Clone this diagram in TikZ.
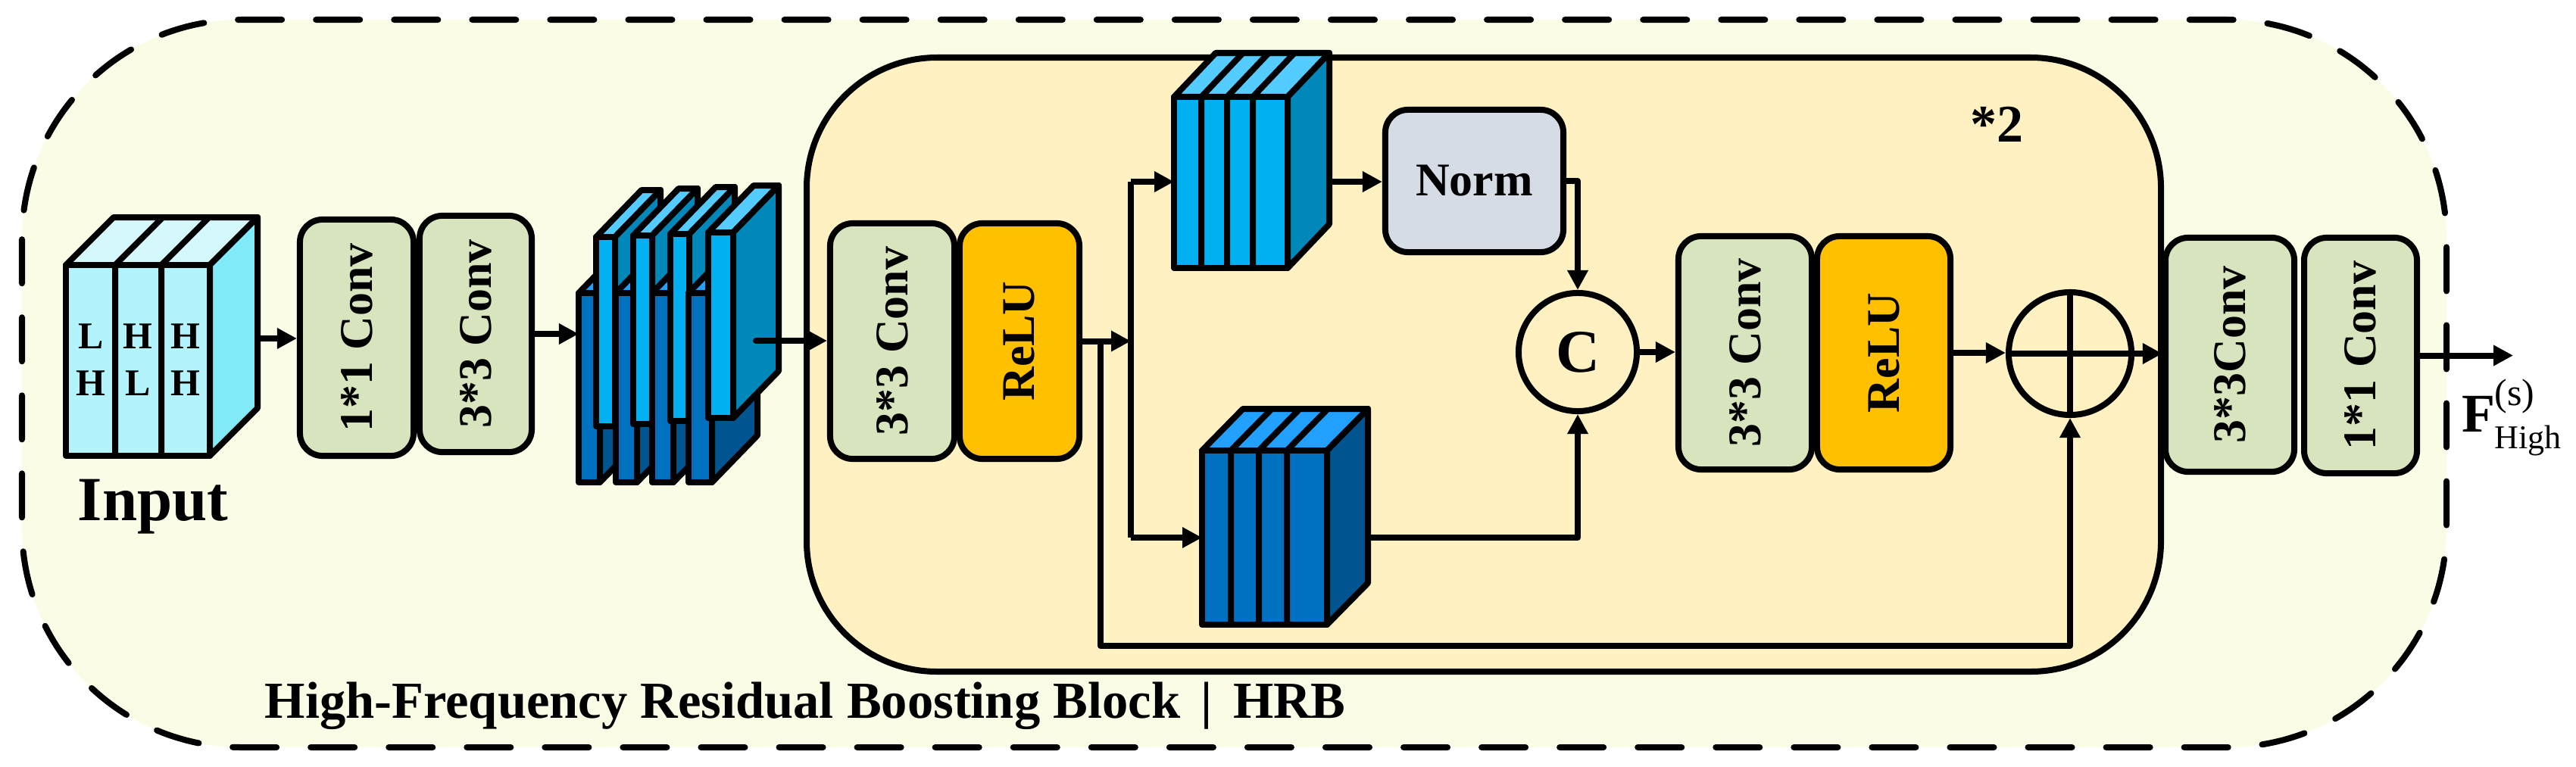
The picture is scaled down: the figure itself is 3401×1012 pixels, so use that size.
\documentclass[tikz,border=0pt]{standalone}
\usepackage{fontspec}
\setmainfont{Liberation Serif}
\usepackage{graphicx}
\usetikzlibrary{arrows.meta,calc}
\definecolor{outerfill}{HTML}{FBFCE6}
\definecolor{innerfill}{HTML}{FFF1C2}
\definecolor{convc}{HTML}{D7E4BD}
\definecolor{reluc}{HTML}{FFC000}
\definecolor{normc}{HTML}{D6DCE5}
\definecolor{infront}{HTML}{B3F3FC}
\definecolor{intop}{HTML}{D5F8FD}
\definecolor{inside}{HTML}{81EBFA}
\definecolor{lfront}{HTML}{00B0F0}
\definecolor{ltop}{HTML}{55CCFF}
\definecolor{lside}{HTML}{0088BB}
\definecolor{dfront}{HTML}{0070C0}
\definecolor{dtop}{HTML}{21A0FF}
\definecolor{dside}{HTML}{00548F}
\newcommand\labfont{\fontsize{17.6}{20}\selectfont\bfseries}
\newcommand\inputfont{\fontsize{23.6}{26}\selectfont\bfseries}
\newcommand\lhfont{\fontsize{14.2}{16}\selectfont\bfseries}
\newcommand\cfont{\fontsize{22.8}{24}\selectfont\bfseries}
\newcommand\twofont{\fontsize{19.9}{22}\selectfont\bfseries}
\newcommand\capfont{\fontsize{19.5}{22}\selectfont\bfseries}
% x0, ytop, w, ybot, dx, rise, front, top, side
\newcommand\cuboid[9]{%
  \filldraw[ln,fill=#8] (#1,#2) -- (#1+#5,#2-#6) -- (#1+#3+#5,#2-#6) -- (#1+#3,#2) -- cycle;
  \filldraw[ln,fill=#9] (#1+#3,#2) -- (#1+#3+#5,#2-#6) -- (#1+#3+#5,#4-#6) -- (#1+#3,#4) -- cycle;
  \filldraw[ln,fill=#7] (#1,#2) rectangle (#1+#3,#4);
}
\begin{document}
\begin{tikzpicture}[x=0.01cm,y=-0.01cm,
  ln/.style={line width=0.08cm,line join=round},
  arr/.style={ln,-{Triangle[length=0.26cm,width=0.26cm]}},
  box/.style={draw,ln,rounded corners=0.3cm,inner sep=0pt,font=\labfont},
  conv/.style={box,fill=convc},
  relu/.style={box,fill=reluc},
  opc/.style={draw,ln,circle,inner sep=0pt,fill=innerfill}]
\useasboundingbox (0,0) rectangle (3401,1012);
\fill[white] (0,0) rectangle (3401,1012);
% outer dashed block
\draw[line width=0.08cm,line cap=round,dash pattern=on 0.58cm off 0.45cm,fill=outerfill,rounded corners=2.9cm] (29,26) rectangle (3230,987);
% inner repeated block
\draw[ln,fill=innerfill,rounded corners=1.72cm] (1065,76) rectangle (2853,887);

% ---------- Input block ----------
\cuboid{87}{350}{190}{602}{63}{63}{infront}{intop}{inside}
\draw[ln] (152,350) -- (152,602) (213,350) -- (213,602)
          (152,350) -- (215,287) (213,350) -- (276,287);
\node[font=\lhfont,anchor=base] (l1a) at (120,460) {L};
\node[font=\lhfont,anchor=base] (l1b) at (120,522) {H};
\node[font=\lhfont,anchor=base] (l2a) at (182,460) {H};
\node[font=\lhfont,anchor=base] (l2b) at (182,522) {L};
\node[font=\lhfont,anchor=base] (l3a) at (245,460) {H};
\node[font=\lhfont,anchor=base] (l3b) at (245,522) {H};
\node[font=\inputfont,anchor=base] (inlab) at (202,687) {Input};
\coordinate (inR) at (340,447);

% ---------- middle feature stack ----------
\cuboid{764}{387}{28}{637}{60}{62}{dfront}{dtop}{dside}
\cuboid{787}{313}{25}{563}{60}{62}{lfront}{ltop}{lside}
\cuboid{813}{387}{28}{637}{60}{62}{dfront}{dtop}{dside}
\cuboid{836}{311}{25}{560}{60}{62}{lfront}{ltop}{lside}
\cuboid{861}{387}{28}{637}{60}{62}{dfront}{dtop}{dside}
\cuboid{885}{309}{25}{556}{60}{62}{lfront}{ltop}{lside}
\cuboid{909}{387}{31}{637}{60}{62}{dfront}{dtop}{dside}
\cuboid{935}{307}{33}{552}{60}{62}{lfront}{ltop}{lside}
\coordinate (mIn) at (764,441);
\coordinate (mOut) at (998,450);

% ---------- upper inner stack ----------
\cuboid{1550}{128}{150}{354}{55}{58}{lfront}{ltop}{lside}
\draw[ln] (1586,128) -- (1586,354) (1620,128) -- (1620,354) (1654,128) -- (1654,354)
          (1586,128) -- (1641,70) (1620,128) -- (1675,70) (1654,128) -- (1709,70);
\coordinate (uIn) at (1550,240);
\coordinate (uOut) at (1755,240);

% ---------- lower inner stack ----------
\cuboid{1587}{595}{165}{825}{54}{55}{dfront}{dtop}{dside}
\draw[ln] (1625,595) -- (1625,825) (1662,595) -- (1662,825) (1699,595) -- (1699,825)
          (1625,595) -- (1679,540) (1662,595) -- (1716,540) (1699,595) -- (1753,540);
\coordinate (lIn) at (1587,710);
\coordinate (lOut) at (1806,710);

% ---------- boxes ----------
\node[conv,minimum width=1.50cm,minimum height=3.12cm] (c1) at (471,446) {\rotatebox{90}{1*1 Conv}};
\node[conv,minimum width=1.48cm,minimum height=3.12cm] (c2) at (628,441) {\rotatebox{90}{3*3 Conv}};
\node[conv,minimum width=1.64cm,minimum height=3.11cm] (c3) at (1178,450.5) {\rotatebox{90}{3*3 Conv}};
\node[relu,minimum width=1.58cm,minimum height=3.11cm] (r1) at (1346,450.5) {\rotatebox{90}{ReLU}};
\node[box,fill=normc,minimum width=2.35cm,minimum height=1.88cm] (norm) at (1946.5,239) {Norm};
\node[opc,minimum size=1.56cm,font=\cfont] (C) at (2083,465) {C};
\node[conv,minimum width=1.76cm,minimum height=3.08cm] (c4) at (2304,466) {\rotatebox{90}{3*3 Conv}};
\node[relu,minimum width=1.76cm,minimum height=3.08cm] (r2) at (2487,466) {\rotatebox{90}{ReLU}};
\node[opc,minimum size=1.62cm] (plus) at (2733,467) {};
\node[conv,minimum width=1.70cm,minimum height=3.09cm] (c5) at (2944,468.5) {\rotatebox{90}{3*3Conv}};
\node[conv,minimum width=1.49cm,minimum height=3.11cm] (c6) at (3116.5,469.5) {\rotatebox{90}{1*1 Conv}};

% ---------- helper coordinates ----------
\coordinate (j1) at (1493,450);
\coordinate (jTop) at (1493,240);
\coordinate (jBot) at (1493,710);
\coordinate (sk) at (1453,450);
\coordinate (skBot) at (1453,853);
\coordinate (outEnd) at (3318,470);

% ---------- connectors ----------
\draw[arr] (inR) -- (inR -| c1.west);
\draw[arr] (c2.east) -- (c2.east -| mIn);
\draw[arr,line cap=round] (mOut) -- (mOut -| c3.west);
\draw[arr] (r1.east) -- (r1.east -| j1);
\draw[ln] (jTop) -- (jBot);
\draw[arr] (jTop) -- (uIn);
\draw[arr] (jBot) -- (lIn);
\draw[arr] (sk) -- (skBot) -| (plus.south);
\draw[arr] (uOut) -- (uOut -| norm.west);
\draw[arr] (norm.east) -| (C.north);
\draw[arr] (lOut) -| (C.south);
\draw[arr] (C.east) -- (C.east -| c4.west);
\draw[arr] (r2.east) -- (r2.east -| plus.west);
\draw[ln] (plus.north) -- (plus.south);
\draw[arr] (plus.west) -- (plus.west -| c5.west);
\draw[arr] (c6.east) -- (c6.east -| outEnd);

% ---------- texts ----------
\node[font=\twofont,anchor=base] (rep) at (2636,187) {*2};
\node[font=\capfont,anchor=base west,inner sep=0pt] (cap) at (349,948) {High-Frequency Residual Boosting Block\hspace{0.4em}|\hspace{0.4em}HRB};
\node[font=\fontsize{20.5}{22}\selectfont\bfseries,anchor=base west,inner sep=0pt] (fF) at (3250,570) {F};
\node[font=\fontsize{14.2}{16}\selectfont,anchor=base west,inner sep=0pt] (fS) at (3293,535) {(s)};
\node[font=\fontsize{12.5}{14}\selectfont,anchor=base west,inner sep=0pt] (fH) at (3293,592) {High};
\end{tikzpicture}
\end{document}
